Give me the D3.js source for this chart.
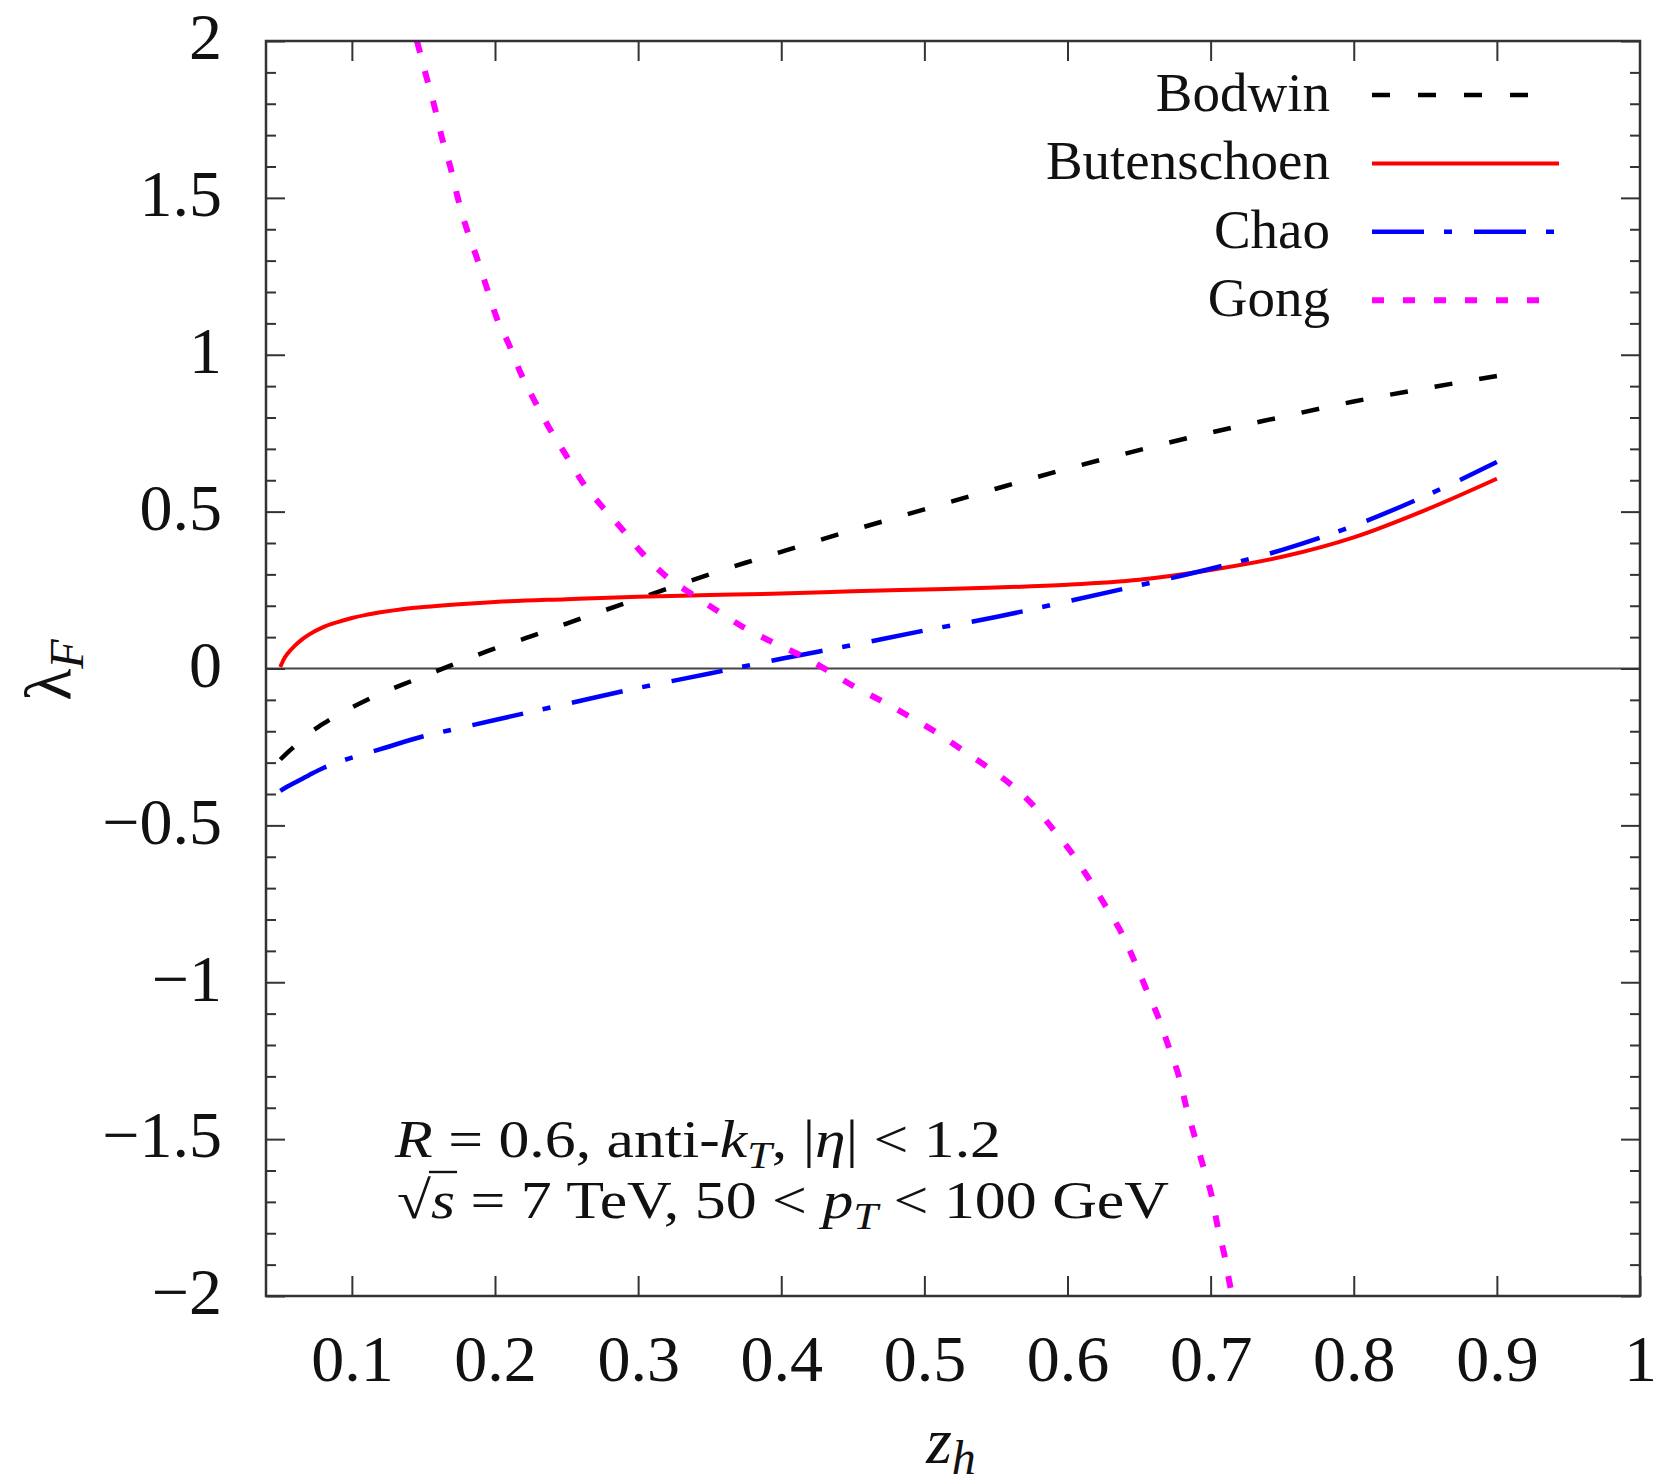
<!DOCTYPE html>
<html>
<head>
<meta charset="utf-8">
<script src="https://cdn.jsdelivr.net/npm/d3@7"></script>
<style>
  body { margin: 0; background: #fff; }
  svg text { font-family: "Liberation Serif", "Times New Roman", serif; fill: #111; }
</style>
</head>
<body>
<svg id="chart" width="1670" height="1484"></svg>
<script>
// λ_F versus z_h for four LDME sets
const zBodwin   = [0.05, 0.055, 0.06, 0.07, 0.08, 0.09, 0.10, 0.12, 0.14, 0.16, 0.18, 0.20, 0.225, 0.25, 0.275, 0.30, 0.325, 0.35, 0.375, 0.40, 0.45, 0.50, 0.55, 0.60, 0.65, 0.70, 0.75, 0.80, 0.85, 0.90];
const lamBodwin = [-0.29, -0.268, -0.248, -0.208, -0.176, -0.148, -0.124, -0.08, -0.043, -0.007, 0.03, 0.064, 0.102, 0.143, 0.183, 0.222, 0.262, 0.300, 0.337, 0.372, 0.441, 0.507, 0.573, 0.637, 0.696, 0.752, 0.802, 0.851, 0.893, 0.932];

const zButen   = [0.05, 0.0525, 0.055, 0.06, 0.065, 0.07, 0.08, 0.09, 0.10, 0.11, 0.12, 0.135, 0.15, 0.175, 0.20, 0.25, 0.30, 0.35, 0.40, 0.45, 0.50, 0.55, 0.60, 0.65, 0.70, 0.75, 0.80, 0.85, 0.90];
const lamButen = [0.005, 0.03, 0.047, 0.072, 0.092, 0.108, 0.132, 0.148, 0.161, 0.171, 0.179, 0.189, 0.196, 0.205, 0.212, 0.221, 0.229, 0.234, 0.239, 0.246, 0.252, 0.258, 0.267, 0.283, 0.314, 0.356, 0.418, 0.505, 0.605];

const zChao   = [0.05, 0.055, 0.06, 0.07, 0.08, 0.09, 0.10, 0.12, 0.15, 0.175, 0.20, 0.25, 0.30, 0.35, 0.40, 0.45, 0.50, 0.55, 0.60, 0.65, 0.70, 0.75, 0.80, 0.85, 0.90];
const lamChao = [-0.39, -0.376, -0.364, -0.34, -0.317, -0.299, -0.284, -0.257, -0.216, -0.19, -0.164, -0.113, -0.062, -0.016, 0.031, 0.075, 0.121, 0.164, 0.214, 0.265, 0.318, 0.378, 0.455, 0.55, 0.658];

const zGong   = [0.1455, 0.152, 0.158, 0.163, 0.169, 0.174, 0.180, 0.187, 0.194, 0.201, 0.210, 0.218, 0.228, 0.238, 0.250, 0.261, 0.275, 0.289, 0.303, 0.320, 0.338, 0.355, 0.375, 0.392, 0.413, 0.432, 0.450, 0.469, 0.488, 0.506, 0.525, 0.544, 0.561, 0.576, 0.590, 0.603, 0.616, 0.627, 0.638, 0.647, 0.655, 0.664, 0.671, 0.678, 0.683, 0.689, 0.695, 0.701, 0.705, 0.710, 0.714, 0.7155];
const lamGong = [2.0, 1.887, 1.786, 1.69, 1.595, 1.50, 1.404, 1.313, 1.217, 1.12, 1.03, 0.941, 0.85, 0.766, 0.677, 0.595, 0.515, 0.443, 0.367, 0.292, 0.236, 0.185, 0.128, 0.088, 0.043, -0.005, -0.055, -0.101, -0.149, -0.197, -0.255, -0.314, -0.372, -0.436, -0.513, -0.588, -0.678, -0.760, -0.845, -0.935, -1.022, -1.118, -1.21, -1.303, -1.398, -1.494, -1.59, -1.686, -1.781, -1.877, -1.975, -2.0];

const seriesNames  = ["Bodwin", "Butenschoen", "Chao", "Gong"];
const seriesZ      = [zBodwin, zButen, zChao, zGong];
const seriesLambda = [lamBodwin, lamButen, lamChao, lamGong];

const xTickValues = [0.1, 0.2, 0.3, 0.4, 0.5, 0.6, 0.7, 0.8, 0.9, 1];
const xTickLabels = ["0.1", "0.2", "0.3", "0.4", "0.5", "0.6", "0.7", "0.8", "0.9", "1"];
const yTickValues = [-2, -1.5, -1, -0.5, 0, 0.5, 1, 1.5, 2];
const yTickLabels = ["\u22122", "\u22121.5", "\u22121", "\u22120.5", "0", "0.5", "1", "1.5", "2"];

// line styles; legendEnd is where each key sample stops;
// fitEnds stretches the gap so the curve both starts and ends on a dash
const styles = [
  { color: "#000000", width: 4.5, dash: [18, 28],        legendEnd: 1530, fitEnds: true },
  { color: "#ff0000", width: 4,   dash: null,            legendEnd: 1559 },
  { color: "#0000ff", width: 4.5, dash: [52, 20, 8, 22], legendEnd: 1559 },
  { color: "#ff00ff", width: 6,   dash: [12, 19],        legendEnd: 1540 }
];

const L = 266, R = 1640, T = 41, B = 1296;
const svg = d3.select("#chart");
svg.append("rect").attr("width", 1670).attr("height", 1484).attr("fill", "#fff");

const x = d3.scaleLinear().domain([0.04, 1]).range([L, R]);
const y = d3.scaleLinear().domain([-2, 2]).range([B, T]);
const yMinor = d3.range(-20, 21).filter(k => k % 5 !== 0).map(k => k / 10);

svg.append("clipPath").attr("id", "plotArea")
  .append("rect").attr("x", L).attr("y", T).attr("width", R - L).attr("height", B - T);

// zero line
svg.append("line")
  .attr("x1", L).attr("x2", R).attr("y1", y(0)).attr("y2", y(0))
  .attr("stroke", "#444").attr("stroke-width", 2);

function styleAxis(g) {
  g.select(".domain").remove();
  g.attr("font-size", null).attr("font-family", null);
  g.selectAll(".tick line").attr("stroke", "#333").attr("stroke-width", 2);
  g.selectAll(".tick text").style("font-size", "66px").attr("fill", "#111");
}

// bottom axis
const gx = svg.append("g").attr("transform", `translate(0,${B})`)
  .call(d3.axisBottom(x).tickValues(xTickValues).tickFormat((d, i) => xTickLabels[i])
    .tickSizeInner(-20).tickSizeOuter(0).tickPadding(0));
styleAxis(gx);
gx.selectAll(".tick text").attr("y", 85).attr("dy", 0);

// top axis
const gxt = svg.append("g").attr("transform", `translate(0,${T})`)
  .call(d3.axisTop(x).tickValues(xTickValues.slice(0, -1)).tickFormat("")
    .tickSizeInner(-20).tickSizeOuter(0));
styleAxis(gxt);

// left axis
const gy = svg.append("g").attr("transform", `translate(${L},0)`)
  .call(d3.axisLeft(y).tickValues(yTickValues).tickFormat((d, i) => yTickLabels[i])
    .tickSizeInner(-19).tickSizeOuter(0).tickPadding(44));
styleAxis(gy);
gy.selectAll(".tick text").attr("dy", "0.27em");
const gym = svg.append("g").attr("transform", `translate(${L},0)`)
  .call(d3.axisLeft(y).tickValues(yMinor).tickFormat("").tickSizeInner(-10).tickSizeOuter(0));
styleAxis(gym);

// right axis
const gyr = svg.append("g").attr("transform", `translate(${R},0)`)
  .call(d3.axisRight(y).tickValues(yTickValues).tickFormat("").tickSizeInner(-19).tickSizeOuter(0));
styleAxis(gyr);
const gyrm = svg.append("g").attr("transform", `translate(${R},0)`)
  .call(d3.axisRight(y).tickValues(yMinor).tickFormat("").tickSizeInner(-10).tickSizeOuter(0));
styleAxis(gyrm);

// curves
const line = d3.line().x(d => x(d[0])).y(d => y(d[1])).curve(d3.curveMonotoneX);
const plot = svg.append("g").attr("clip-path", "url(#plotArea)");
seriesNames.forEach((name, i) => {
  const pts = seriesZ[i].map((z, j) => [z, seriesLambda[i][j]]);
  const st = styles[i];
  const p = plot.append("path")
    .datum(pts)
    .attr("d", line)
    .attr("fill", "none")
    .attr("stroke", st.color)
    .attr("stroke-width", st.width)
    .attr("stroke-linejoin", "round");
  if (st.dash) {
    let dash = st.dash.slice();
    if (st.fitEnds) {
      const len = p.node().getTotalLength();
      const period = d3.sum(dash);
      const n = Math.max(1, Math.round((len - dash[0]) / period));
      dash = [dash[0], (len - dash[0]) / n - dash[0]];
    }
    p.attr("stroke-dasharray", dash.join(" "));
  }
});

// frame
svg.append("rect")
  .attr("x", L).attr("y", T).attr("width", R - L).attr("height", B - T)
  .attr("fill", "none").attr("stroke", "#333").attr("stroke-width", 2.5);

// legend
const legend = svg.append("g");
seriesNames.forEach((name, i) => {
  const ly = 95 + i * 68.4;
  legend.append("text")
    .attr("x", 1330).attr("y", ly + 16)
    .attr("text-anchor", "end")
    .style("font-size", "55px")
    .text(name);
  legend.append("line")
    .attr("x1", 1372).attr("x2", styles[i].legendEnd).attr("y1", ly).attr("y2", ly)
    .attr("stroke", styles[i].color)
    .attr("stroke-width", styles[i].width)
    .attr("stroke-dasharray", styles[i].dash ? styles[i].dash.join(" ") : null);
});

// rich text helper: segments of {t, it, sub}
function richText(parent, px, py, size, segs, anchor, subShift) {
  const t = parent.append("text").attr("x", px).attr("y", py)
    .style("font-size", size + "px");
  if (anchor) t.attr("text-anchor", anchor);
  const shift = subShift != null ? subShift : Math.round(size * 0.2);
  let lowered = false;
  segs.forEach(s => {
    const sp = t.append("tspan").text(s.t);
    if (s.it) sp.style("font-style", "italic");
    if (s.sub) {
      sp.style("font-size", Math.round(size * 0.72) + "px");
      if (!lowered) { sp.attr("dy", shift); lowered = true; }
    } else if (lowered) {
      sp.attr("dy", -shift); lowered = false;
    }
  });
  return t;
}

// cuts annotation
richText(svg, 395, 1157, 53, [
  { t: "R", it: true }, { t: " = 0.6, anti-" }, { t: "k", it: true }, { t: "T", it: true, sub: true },
  { t: ", |" }, { t: "η", it: true }, { t: "| < 1.2" }
]).attr("textLength", 606).attr("lengthAdjust", "spacingAndGlyphs");
const l2 = richText(svg, 397, 1218, 53, [
  { t: "\u221A" }, { t: "s", it: true }, { t: " = 7 TeV, 50 < " }, { t: "p", it: true },
  { t: "T", it: true, sub: true }, { t: " < 100 GeV" }
]).attr("textLength", 772).attr("lengthAdjust", "spacingAndGlyphs");
// bar over the radicand
const n2 = l2.node();
const e0 = n2.getExtentOfChar(0), e1 = n2.getExtentOfChar(1);
svg.append("line")
  .attr("x1", e0.x + e0.width - 2).attr("x2", e1.x + e1.width + 2)
  .attr("y1", 1218 - 46).attr("y2", 1218 - 46)
  .attr("stroke", "#111").attr("stroke-width", 2.4);

// axis titles
richText(svg, 951, 1463, 66, [{ t: "z", it: true }, { t: "h", it: true, sub: true }], "middle", 11);
const yl = svg.append("g").attr("transform", "translate(70,670) rotate(-90)");
richText(yl, 0, 0, 66, [{ t: "λ" }, { t: "F", it: true, sub: true }], "middle");
</script>
</body>
</html>
